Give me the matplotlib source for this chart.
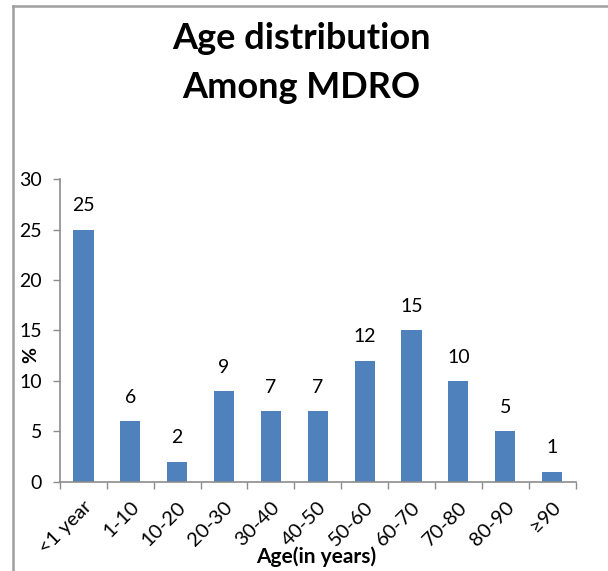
import matplotlib
matplotlib.use('Agg')
import matplotlib.pyplot as plt
from matplotlib.lines import Line2D
import numpy as np

# Age groups and share of MDRO isolates (%)
age_groups = ['<1 year', '1-10', '10-20', '20-30', '30-40', '40-50',
              '50-60', '60-70', '70-80', '80-90', '\u226590']
percent = [25, 6, 2, 9, 7, 7, 12, 15, 10, 5, 1]

title_lines = ['Age distribution', 'Among MDRO']

plt.rcParams['font.family'] = ['Lato', 'DejaVu Sans']

bar_color = '#4F81BD'
axis_color = '#8C8C8C'

fig = plt.figure(figsize=(6.08, 5.71), dpi=100)
ax = fig.add_axes([0.0987, 0.1564, 0.848, 0.530])

x = np.arange(len(age_groups))
ax.bar(x, percent, width=0.43, color=bar_color, zorder=2)

#  Value labels above bars
for xi, val in zip(x, percent):
    ax.annotate('%d' % val, xy=(xi, val), xytext=(0, 11),
                textcoords='offset points', ha='center', va='bottom',
                fontsize=14)

ax.set_xlim(-0.5, len(age_groups) - 0.5)
ax.set_ylim(0, 30)
ax.set_yticks(range(0, 31, 5))
ax.tick_params(axis='y', labelsize=14, length=5, color=axis_color,
               width=1, pad=8)

#  Tick marks between categories, labels at category centres
ax.set_xticks(np.arange(-0.5, len(age_groups), 1.0))
ax.set_xticklabels([])
ax.set_xticks(x, minor=True)
ax.set_xticklabels(age_groups, minor=True, rotation=45, ha='right',
                   rotation_mode='anchor', fontsize=14.5)
ax.tick_params(axis='x', which='major', length=5, color=axis_color, width=1)
ax.tick_params(axis='x', which='minor', length=0, pad=12)

for side in ['top', 'right']:
    ax.spines[side].set_visible(False)
for side in ['left', 'bottom']:
    ax.spines[side].set_color(axis_color)
    ax.spines[side].set_linewidth(1.2)

ax.set_ylabel('%', fontsize=14, fontweight='bold', va='center')
ax.yaxis.set_label_coords(-0.056, 0.418)
ax.set_xlabel('Age(in years)', fontsize=15, fontweight='bold')
ax.xaxis.set_label_coords(0.497, -0.215)

#  Two-line title
for line, ypix in zip(title_lines, [49, 98]):
    fig.text(0.495, 1 - ypix / 571, line, ha='center', va='baseline',
             fontsize=26, fontweight='bold')

#  Outer frame (left and top edges)
fig.add_artist(Line2D([13 / 608, 13 / 608], [0, 1 - 6 / 571],
                      transform=fig.transFigure, color='#A0A0A0', lw=1.8))
fig.add_artist(Line2D([13 / 608, 1], [1 - 6 / 571, 1 - 6 / 571],
                      transform=fig.transFigure, color='#A0A0A0', lw=1.8))

fig.savefig('out.png', dpi=100)
plt.close()
